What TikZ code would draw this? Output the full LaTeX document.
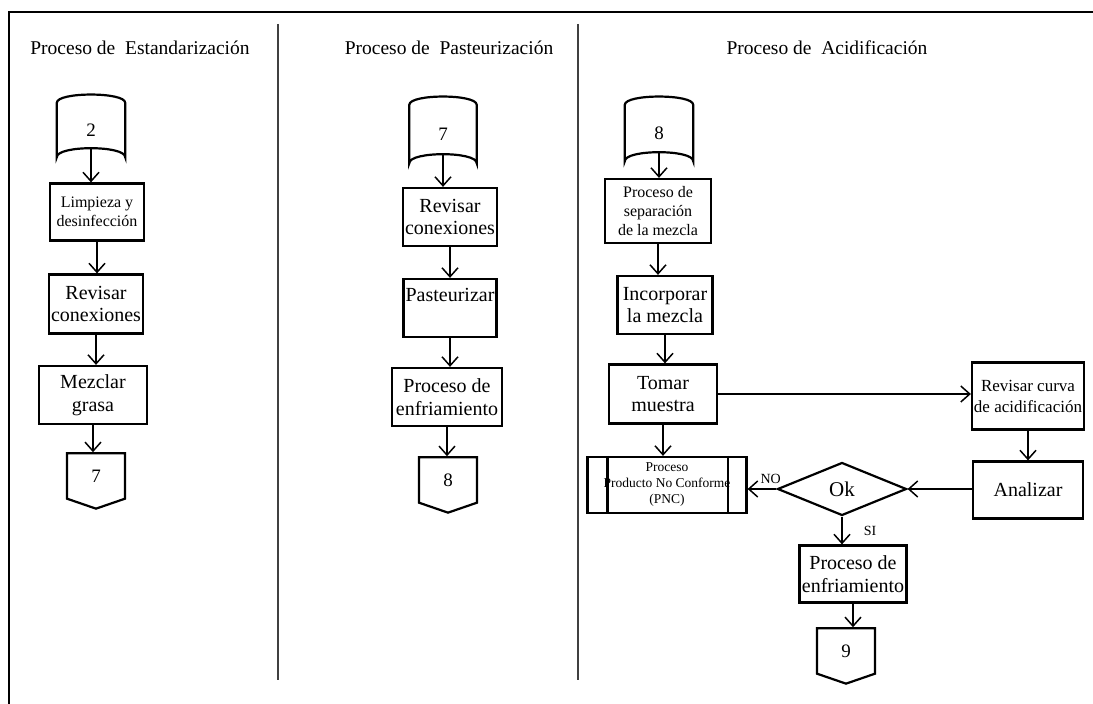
\documentclass[tikz,border=0pt]{standalone}
\usepackage{fontspec}
\setmainfont{Liberation Serif}
\usetikzlibrary{shapes.geometric, shapes.symbols, arrows.meta, calc}

\begin{document}
\begin{tikzpicture}[
  x=1pt, y=1pt,
  box/.style={draw, line width=2.2pt, inner sep=1pt, align=center, font=\fontsize{20}{22.5}\selectfont},
  smallbox/.style={box, font=\fontsize{16}{19}\selectfont},
  conn/.style={minimum width=68pt, minimum height=54pt, inner sep=0pt, font=\fontsize{19}{20}\selectfont},
  offpage/.style={draw, line width=2.2pt, signal, signal to=south, signal from=nowhere, signal pointer angle=142, minimum width=58pt, minimum height=47pt, inner sep=0pt, font=\fontsize{19}{20}\selectfont},
  decision/.style={draw, line width=2.2pt, diamond, minimum width=129pt, minimum height=53pt, inner sep=0pt, font=\fontsize{21}{22}\selectfont},
  pnc/.style={draw, line width=2.2pt, minimum width=159pt, minimum height=56pt, inner sep=0pt, align=center, font=\fontsize{13.5}{16}\selectfont},
  title/.style={font=\fontsize{19.5}{22}\selectfont},
  lbl/.style={font=\fontsize{14}{15}\selectfont, inner sep=1pt},
  arrow/.style={-{Straight Barb[length=9pt, width=16pt]}, line width=1.5pt},
  sep/.style={line width=1.6pt, black!75}
]
\useasboundingbox (0,0) rectangle (1093,704);
\draw[line width=2.8pt] (1093,692) -| (9,0);
\draw[sep] (278,680) -- (278,24);
\draw[sep] (578,680) -- (578,24);

\node[title] (t1) at (140,656) {Proceso de~ Estandarización};
\node[title] (t2) at (449,656) {Proceso de~ Pasteurización};
\node[title] (t3) at (827,656) {Proceso de~ Acidificación};

% Estandarizacion
\node[conn] (c1) at (91,574) {2};
\node[smallbox, minimum width=94pt, minimum height=57pt] (b11) at (97,492) {Limpieza y\\desinfección};
\node[box, minimum width=94pt, minimum height=59pt] (b12) at (96,400) {Revisar\\conexiones};
\node[box, minimum width=108pt, minimum height=58pt] (b13) at (93,309) {Mezclar\\grasa};
\node[offpage] (o1) at (96,228) {7};

% Pasteurizacion
\node[conn, minimum width=67pt, minimum height=58pt] (c2) at (443,570) {7};
\node[box, minimum width=94pt, minimum height=58pt] (b21) at (450,487) {Revisar\\conexiones};
\node[box, minimum width=93pt, minimum height=58pt, text height=15pt, text depth=27pt] (b22) at (450,396) {Pasteurizar};
\node[box, minimum width=110pt, minimum height=58pt] (b23) at (447,307) {Proceso de\\enfriamiento};
\node[offpage] (o2) at (448,224) {8};

% Acidificacion
\node[conn, minimum height=56pt] (c3) at (659,571) {8};
\node[smallbox, minimum width=106pt, minimum height=64pt] (b31) at (658,493) {Proceso de\\separación\\de la mezcla};
\node[box, minimum width=95pt, minimum height=58pt] (b32) at (665,399) {Incorporar\\la mezcla};
\node[box, minimum width=108pt, minimum height=59pt] (b33) at (663,310) {Tomar\\muestra};
\node[box, font=\fontsize{17}{21}\selectfont, minimum width=112pt, minimum height=67pt] (b34) at (1028,308) {Revisar curva\\de acidificación};
\node[box, minimum width=110pt, minimum height=57pt] (b35) at (1028,214) {Analizar};
\node[decision] (d1) at (842,215) {Ok};
\node[pnc] (p1) at (667,219) {Proceso\\Producto No Conforme\\(PNC)};
\node[box, minimum width=107pt, minimum height=57pt] (b36) at (853,130) {Proceso de\\enfriamiento};
\node[offpage] (o3) at (846,53) {9};

\foreach \c in {c1,c2,c3}
  \draw[line width=2.2pt] (\c.south west) -- (\c.north west)
    .. controls ($(\c.north west)+(0,11)$) and ($(\c.north east)+(0,11)$) .. (\c.north east)
    -- (\c.south east)
    .. controls ($(\c.south east)+(0,12)$) and ($(\c.south west)+(0,12)$) .. (\c.south west) -- cycle;
\draw[line width=2.2pt] ($(p1.north west)+(21,0)$) -- ($(p1.south west)+(21,0)$)
  ($(p1.north east)+(-20,0)$) -- ($(p1.south east)+(-20,0)$);

\draw[arrow] ($(c1.south)+(0,9)$) -- (b11.north -| c1.south);
\draw[arrow] (b11.south) -- (b12.north -| b11.south);
\draw[arrow] (b12.south) -- (b13.north -| b12.south);
\draw[arrow] (b13.south) -- (o1.north -| b13.south);

\draw[arrow] ($(c2.south)+(0,9)$) -- (b21.north -| c2.south);
\draw[arrow] (b21.south) -- (b22.north -| b21.south);
\draw[arrow] (b22.south) -- (b23.north -| b22.south);
\draw[arrow] (b23.south) -- (o2.north -| b23.south);

\draw[arrow] ($(c3.south)+(0,9)$) -- (b31.north -| c3.south);
\draw[arrow] (b31.south) -- (b32.north -| b31.south);
\draw[arrow] (b32.south) -- (b33.north -| b32.south);
\draw[arrow] (b33.east) -- (b34.west |- b33.east);
\draw[arrow] (b34.south) -- (b35.north);
\draw[arrow] (b35.west |- d1.east) -- (d1.east);
\draw[arrow] (b33.south) -- (p1.north -| b33.south);
\draw[arrow] (d1.west) -- (p1.east |- d1.west) node[lbl, pos=0.2, above=4pt] (no) {NO};
\draw[arrow] (d1.south) -- (b36.north -| d1.south) node[lbl, midway, right=20pt] (si) {SI};
\draw[arrow] (b36.south) -- (o3.north -| b36.south);
\end{tikzpicture}
\end{document}
